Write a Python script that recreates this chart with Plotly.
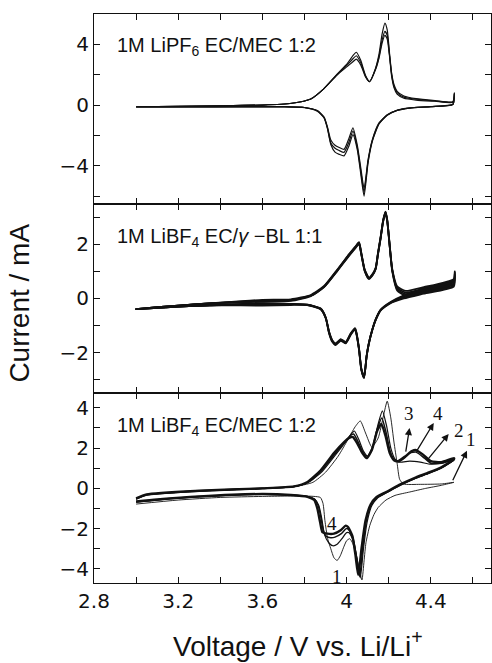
import plotly.graph_objects as go
from plotly.subplots import make_subplots

# ---------------- data ----------------
# Panel 1 : 1M LiPF6 EC/MEC 1:2  (three cycles A, B, C)
P1_V_ANO = [3.00, 3.20, 3.40, 3.60, 3.74, 3.83, 3.89, 3.956, 4.004, 4.03, 4.046, 4.067, 4.09, 4.109,
            4.138, 4.154, 4.169, 4.182, 4.193, 4.204, 4.214, 4.225, 4.24, 4.272, 4.33, 4.42, 4.505, 4.512]
P1_I_ANO_A = [-0.12, -0.08, -0.05, 0.00, 0.12, 0.40, 1.05, 2.05, 2.75, 3.25, 3.48, 2.95, 1.95, 1.55,
              2.45, 3.35, 4.70, 5.40, 4.95, 3.40, 2.10, 1.35, 0.90, 0.60, 0.42, 0.30, 0.22, 0.80]
P1_I_ANO_B = [-0.12, -0.08, -0.05, 0.00, 0.12, 0.40, 1.05, 2.02, 2.65, 3.05, 3.25, 2.80, 1.90, 1.55,
              2.40, 3.20, 4.30, 4.85, 4.60, 3.30, 2.00, 1.25, 0.82, 0.52, 0.38, 0.27, 0.20, 0.75]
P1_I_ANO_C = [-0.12, -0.08, -0.05, 0.00, 0.12, 0.40, 1.05, 2.00, 2.55, 2.85, 3.03, 2.65, 1.85, 1.53,
              2.35, 3.10, 4.10, 4.60, 4.35, 3.20, 1.90, 1.15, 0.72, 0.45, 0.33, 0.25, 0.18, 0.70]
P1_V_CAT = [4.505, 4.40, 4.30, 4.24, 4.193, 4.154, 4.122, 4.102, 4.083, 4.067, 4.051, 4.03, 4.011,
            3.988, 3.965, 3.945, 3.925, 3.909, 3.893, 3.861, 3.80, 3.70, 3.50, 3.25, 3.00]
P1_I_CAT_A = [0.05, -0.10, -0.20, -0.35, -0.68, -1.25, -2.40, -3.80, -6.00, -4.50, -2.95, -1.95, -2.70,
              -3.35, -3.25, -3.10, -2.60, -1.55, -0.85, -0.40, -0.17, -0.12, -0.12, -0.12, -0.13]
P1_I_CAT_B = [0.04, -0.10, -0.20, -0.35, -0.66, -1.22, -2.35, -3.70, -5.75, -4.30, -2.80, -1.72, -2.45,
              -3.12, -3.00, -2.85, -2.50, -1.50, -0.82, -0.38, -0.16, -0.11, -0.11, -0.12, -0.12]
P1_I_CAT_C = [0.03, -0.10, -0.19, -0.34, -0.64, -1.18, -2.30, -3.60, -5.50, -4.10, -2.65, -1.50, -2.20,
              -2.92, -2.80, -2.65, -2.30, -1.45, -0.80, -0.37, -0.16, -0.11, -0.11, -0.11, -0.12]

# Panel 2 : 1M LiBF4 EC/gamma-BL 1:1  (four nearly identical cycles)
P2_V_ANO = [3.00, 3.20, 3.35, 3.60, 3.735, 3.83, 3.893, 3.956, 4.004, 4.043, 4.059, 4.07, 4.086, 4.106,
            4.122, 4.138, 4.149, 4.162, 4.174, 4.185, 4.193, 4.201, 4.217, 4.24, 4.28, 4.367, 4.509, 4.514]
P2_I_ANO_A = [-0.39, -0.26, -0.18, -0.05, -0.03, 0.13, 0.46, 1.07, 1.56, 1.93, 2.08, 1.68, 1.07, 0.77,
              0.89, 1.13, 1.68, 2.29, 2.91, 3.21, 2.91, 2.29, 1.08, 0.45, 0.28, 0.42, 0.72, 1.00]
P2_I_ANO_B = [-0.39, -0.26, -0.18, -0.08, -0.05, 0.11, 0.44, 1.05, 1.54, 1.91, 2.06, 1.66, 1.05, 0.75,
              0.87, 1.11, 1.66, 2.27, 2.89, 3.19, 2.89, 2.27, 1.05, 0.40, 0.22, 0.36, 0.64, 0.95]
P2_I_ANO_C = [-0.39, -0.26, -0.18, -0.10, -0.07, 0.10, 0.43, 1.03, 1.52, 1.89, 2.03, 1.64, 1.03, 0.74,
              0.86, 1.10, 1.64, 2.25, 2.87, 3.17, 2.87, 2.25, 1.03, 0.35, 0.16, 0.30, 0.56, 0.90]
P2_I_ANO_D = [-0.39, -0.26, -0.18, -0.12, -0.09, 0.09, 0.42, 1.02, 1.50, 1.87, 2.01, 1.62, 1.01, 0.72,
              0.84, 1.08, 1.62, 2.23, 2.85, 3.15, 2.85, 2.23, 1.00, 0.30, 0.10, 0.24, 0.48, 0.85]
P2_V_CAT = [4.509, 4.367, 4.272, 4.209, 4.162, 4.138, 4.122, 4.106, 4.095, 4.083, 4.07, 4.059, 4.046,
            4.04, 4.019, 3.996, 3.972, 3.948, 3.932, 3.917, 3.901, 3.877, 3.814, 3.735, 3.60, 3.35, 3.20, 3.00]
P2_I_CAT_A = [0.68, 0.36, 0.12, -0.13, -0.41, -0.77, -1.14, -1.63, -2.12, -2.94, -2.64, -1.90, -1.29,
              -1.15, -1.35, -1.66, -1.56, -1.72, -1.60, -1.29, -0.74, -0.40, -0.24, -0.20, -0.17, -0.25, -0.30, -0.39]
P2_I_CAT_B = [0.60, 0.30, 0.08, -0.15, -0.42, -0.78, -1.15, -1.64, -2.13, -2.92, -2.62, -1.88, -1.27,
              -1.13, -1.33, -1.64, -1.54, -1.70, -1.58, -1.27, -0.72, -0.39, -0.23, -0.21, -0.20, -0.25, -0.30, -0.39]
P2_I_CAT_C = [0.52, 0.24, 0.04, -0.16, -0.43, -0.79, -1.16, -1.65, -2.14, -2.90, -2.60, -1.86, -1.25,
              -1.11, -1.31, -1.62, -1.52, -1.68, -1.56, -1.25, -0.71, -0.38, -0.23, -0.22, -0.23, -0.25, -0.30, -0.39]
P2_I_CAT_D = [0.44, 0.18, 0.00, -0.17, -0.44, -0.80, -1.17, -1.66, -2.15, -2.88, -2.58, -1.84, -1.23,
              -1.09, -1.29, -1.60, -1.50, -1.66, -1.54, -1.23, -0.70, -0.37, -0.24, -0.24, -0.26, -0.25, -0.30, -0.39]

# Panel 3 : 1M LiBF4 EC/MEC 1:2  (cycles 1..4)
P3_V_ANO_1 = [3.00, 3.05, 3.30, 3.60, 3.75, 3.84, 3.90, 3.96, 4.005, 4.04, 4.065, 4.09, 4.12, 4.15,
              4.175, 4.193, 4.21, 4.225, 4.24, 4.252, 4.27, 4.35, 4.45, 4.51]
P3_I_ANO_1 = [-0.55, -0.35, -0.15, -0.02, 0.08, 0.30, 0.80, 1.60, 2.40, 3.05, 3.35, 2.75, 2.05, 2.50,
              3.60, 4.33, 3.50, 2.30, 1.25, 0.45, 0.22, 0.20, 0.22, 0.30]
P3_V_CAT_1 = [4.51, 4.45, 4.376, 4.30, 4.23, 4.187, 4.15, 4.13, 4.11, 4.092, 4.083, 4.073, 4.062, 4.045,
              4.03, 4.015, 4.00, 3.985, 3.97, 3.955, 3.94, 3.925, 3.91, 3.897, 3.888, 3.875, 3.80, 3.60,
              3.40, 3.20, 3.00]
P3_I_CAT_1 = [0.30, 0.15, 0.00, -0.18, -0.35, -0.58, -0.95, -1.30, -1.85, -2.70, -3.60, -4.55, -4.10,
              -3.30, -2.75, -2.50, -2.60, -2.95, -3.35, -3.58, -3.45, -3.00, -2.50, -1.60, -0.75, -0.45,
              -0.38, -0.40, -0.45, -0.58, -0.78]
P3_V_ANO_2 = [3.00, 3.05, 3.30, 3.60, 3.75, 3.82, 3.885, 3.95, 3.998, 4.022, 4.037, 4.057, 4.08, 4.10,
              4.125, 4.15, 4.17, 4.19, 4.21, 4.23, 4.25, 4.30, 4.35, 4.40, 4.45, 4.51]
P3_I_ANO_2 = [-0.52, -0.32, -0.13, 0.00, 0.09, 0.30, 0.85, 1.70, 2.35, 2.70, 2.85, 2.45, 1.85, 1.60,
              2.10, 3.20, 3.85, 3.10, 2.00, 1.45, 1.30, 1.35, 1.30, 1.20, 1.25, 1.40]
P3_V_CAT_2 = [4.51, 4.45, 4.38, 4.33, 4.25, 4.19, 4.145, 4.12, 4.097, 4.08, 4.065, 4.05, 4.032, 4.012,
              4.00, 3.978, 3.955, 3.935, 3.915, 3.895, 3.882, 3.868, 3.85, 3.814, 3.735, 3.60, 3.30,
              3.10, 3.00]
P3_I_CAT_2 = [1.40, 1.00, 0.70, 0.50, 0.12, -0.22, -0.50, -0.85, -1.70, -3.00, -4.45, -3.50, -2.60,
              -2.20, -2.20, -2.50, -2.78, -2.85, -2.70, -2.30, -1.50, -0.85, -0.55, -0.40, -0.33, -0.30,
              -0.42, -0.58, -0.68]
P3_V_ANO_3 = [3.00, 3.05, 3.30, 3.60, 3.75, 3.817, 3.88, 3.945, 3.993, 4.018, 4.033, 4.053, 4.077,
              4.097, 4.122, 4.147, 4.167, 4.187, 4.207, 4.227, 4.247, 4.28, 4.30, 4.33, 4.37, 4.40,
              4.45, 4.51]
P3_I_ANO_3 = [-0.51, -0.31, -0.12, 0.00, 0.09, 0.31, 0.88, 1.72, 2.32, 2.62, 2.70, 2.35, 1.80, 1.55,
              2.00, 3.00, 3.50, 2.80, 1.85, 1.42, 1.32, 1.55, 1.75, 1.80, 1.50, 1.25, 1.25, 1.45]
P3_V_CAT_3 = [4.51, 4.45, 4.38, 4.33, 4.25, 4.19, 4.142, 4.117, 4.093, 4.077, 4.062, 4.047, 4.03, 4.01,
              3.998, 3.975, 3.945, 3.925, 3.905, 3.89, 3.878, 3.865, 3.848, 3.814, 3.735, 3.60, 3.30,
              3.10, 3.00]
P3_I_CAT_3 = [1.42, 1.02, 0.72, 0.52, 0.15, -0.20, -0.48, -0.82, -1.65, -2.95, -4.38, -3.40, -2.45,
              -2.05, -2.00, -2.25, -2.42, -2.45, -2.40, -2.10, -1.45, -0.85, -0.55, -0.41, -0.33, -0.29,
              -0.41, -0.57, -0.67]
P3_V_ANO_4 = [3.00, 3.05, 3.30, 3.60, 3.75, 3.814, 3.877, 3.94, 3.988, 4.015, 4.03, 4.05, 4.075, 4.095,
              4.12, 4.145, 4.165, 4.185, 4.205, 4.225, 4.245, 4.28, 4.31, 4.33, 4.36, 4.40, 4.45, 4.51]
P3_I_ANO_4 = [-0.50, -0.30, -0.12, 0.00, 0.10, 0.32, 0.90, 1.75, 2.30, 2.52, 2.55, 2.25, 1.75, 1.50,
              1.90, 2.85, 3.20, 2.60, 1.75, 1.40, 1.35, 1.60, 1.85, 1.90, 1.70, 1.35, 1.30, 1.50]
P3_V_CAT_4 = [4.51, 4.45, 4.38, 4.33, 4.25, 4.19, 4.14, 4.114, 4.09, 4.072, 4.055, 4.042, 4.027, 4.007,
              3.996, 3.972, 3.94, 3.909, 3.885, 3.874, 3.861, 3.846, 3.814, 3.735, 3.60, 3.30, 3.10, 3.00]
P3_I_CAT_4 = [1.45, 1.05, 0.75, 0.55, 0.17, -0.17, -0.45, -0.80, -1.60, -2.90, -4.30, -3.30, -2.35,
              -1.92, -1.85, -2.08, -2.25, -2.25, -2.17, -1.67, -1.00, -0.58, -0.42, -0.33, -0.28, -0.40,
              -0.55, -0.65]

# arrows and cycle labels (panel 3)
ARROW_TAIL_V = [4.280, 4.327, 4.383, 4.501]
ARROW_TAIL_I = [1.75, 1.75, 1.40, 0.33]
ARROW_HEAD_V = [4.299, 4.414, 4.485, 4.572]
ARROW_HEAD_I = [3.00, 3.25, 2.70, 1.87]
CYCLE_LABELS = ["3", "4", "2", "1", "4", "1"]
CYCLE_LABEL_V = [4.295, 4.432, 4.533, 4.593, 3.933, 3.956]
CYCLE_LABEL_I = [3.72, 3.72, 2.86, 2.42, -1.74, -4.39]

# axes ticks
X_TICKS = [2.8, 3.0, 3.2, 3.4, 3.6, 3.8, 4.0, 4.2, 4.4, 4.6]
X_TICKTEXT = ["2.8", " ", "3.2", " ", "3.6", " ", "4", " ", "4.4", " "]
Y1_TICKS = [-6, -4, -2, 0, 2, 4]
Y1_TICKTEXT = [" ", "\u22124", " ", "0", " ", "4"]
Y2_TICKS = [-3, -2, -1, 0, 1, 2, 3]
Y2_TICKTEXT = [" ", "\u22122", " ", "0", " ", "2", " "]
Y3_TICKS = [-4, -3, -2, -1, 0, 1, 2, 3, 4]
Y3_TICKTEXT = ["\u22124", " ", "\u22122", " ", "0", " ", "2", " ", "4"]

PANEL_TEXT = ["1M LiPF<sub>6</sub> EC/MEC 1:2",
              "1M LiBF<sub>4</sub> EC/<i>\u03b3</i> \u2212BL 1:1",
              "1M LiBF<sub>4</sub> EC/MEC 1:2"]
PANEL_TEXT_Y = [3.84, 2.25, 3.07]

# ---------------- figure ----------------
SANS = "Liberation Sans, Arial, Helvetica, sans-serif"
WIDE = "DejaVu Sans, Liberation Sans, Arial, sans-serif"
SERIF = "Liberation Serif, Times New Roman, serif"
INK = "#111111"

fig = make_subplots(rows=3, cols=1, shared_xaxes=True, vertical_spacing=0)


def add_cycle(va, ia, vc, ic, row, width):
    fig.add_trace(go.Scatter(x=va + vc, y=ia + ic, mode="lines",
                             line=dict(color=INK, width=width, shape="spline", smoothing=0.55),
                             showlegend=False, hoverinfo="skip"), row=row, col=1)


add_cycle(P1_V_ANO, P1_I_ANO_A, P1_V_CAT, P1_I_CAT_A, 1, 1.2)
add_cycle(P1_V_ANO, P1_I_ANO_B, P1_V_CAT, P1_I_CAT_B, 1, 1.2)
add_cycle(P1_V_ANO, P1_I_ANO_C, P1_V_CAT, P1_I_CAT_C, 1, 1.2)

add_cycle(P2_V_ANO, P2_I_ANO_A, P2_V_CAT, P2_I_CAT_A, 2, 1.8)
add_cycle(P2_V_ANO, P2_I_ANO_B, P2_V_CAT, P2_I_CAT_B, 2, 1.8)
add_cycle(P2_V_ANO, P2_I_ANO_C, P2_V_CAT, P2_I_CAT_C, 2, 1.8)
add_cycle(P2_V_ANO, P2_I_ANO_D, P2_V_CAT, P2_I_CAT_D, 2, 1.8)

add_cycle(P3_V_ANO_1, P3_I_ANO_1, P3_V_CAT_1, P3_I_CAT_1, 3, 0.9)
add_cycle(P3_V_ANO_2, P3_I_ANO_2, P3_V_CAT_2, P3_I_CAT_2, 3, 1.2)
add_cycle(P3_V_ANO_3, P3_I_ANO_3, P3_V_CAT_3, P3_I_CAT_3, 3, 1.5)
add_cycle(P3_V_ANO_4, P3_I_ANO_4, P3_V_CAT_4, P3_I_CAT_4, 3, 2.4)

axis_common = dict(showline=True, linecolor=INK, linewidth=1.2, mirror="allticks",
                   ticks="inside", ticklen=6, tickwidth=1.3, tickcolor=INK,
                   showgrid=False, zeroline=False,
                   tickfont=dict(family=WIDE, size=20, color=INK))

for i in (1, 2, 3):
    fig.update_xaxes(range=[2.8, 4.686], tickmode="array", tickvals=X_TICKS, ticktext=X_TICKTEXT,
                     showticklabels=(i == 3), row=i, col=1, **axis_common)

fig.update_yaxes(range=[-6.5, 6.0], tickmode="array", tickvals=Y1_TICKS, ticktext=Y1_TICKTEXT,
                 row=1, col=1, **axis_common)
fig.update_yaxes(range=[-3.5, 3.5], tickmode="array", tickvals=Y2_TICKS, ticktext=Y2_TICKTEXT,
                 row=2, col=1, **axis_common)
fig.update_yaxes(range=[-4.7, 4.72], tickmode="array", tickvals=Y3_TICKS, ticktext=Y3_TICKTEXT,
                 row=3, col=1, **axis_common)

annotations = []
for k, (txt, yy) in enumerate(zip(PANEL_TEXT, PANEL_TEXT_Y)):
    suffix = "" if k == 0 else str(k + 1)
    annotations.append(dict(text=txt, x=2.9, y=yy, xref="x" + suffix, yref="y" + suffix,
                            xanchor="left", yanchor="middle", showarrow=False,
                            font=dict(family=SANS, size=20, color=INK)))

for tv, ti, hv, hi in zip(ARROW_TAIL_V, ARROW_TAIL_I, ARROW_HEAD_V, ARROW_HEAD_I):
    annotations.append(dict(text="", x=hv, y=hi, ax=tv, ay=ti, xref="x3", yref="y3",
                            axref="x3", ayref="y3", showarrow=True, arrowhead=2,
                            arrowsize=1.1, arrowwidth=1.3, arrowcolor=INK))

for lab, lv, li in zip(CYCLE_LABELS, CYCLE_LABEL_V, CYCLE_LABEL_I):
    annotations.append(dict(text=lab, x=lv, y=li, xref="x3", yref="y3", showarrow=False,
                            xanchor="center", yanchor="middle",
                            font=dict(family=SERIF, size=19, color=INK)))

annotations.append(dict(text="Current / mA", x=-0.19, y=0.492, xref="paper", yref="paper",
                        textangle=-90, showarrow=False, xanchor="center", yanchor="middle",
                        font=dict(family=SANS, size=28, color=INK)))
annotations.append(dict(text="Voltage / V vs. Li/Li<sup>+</sup>", x=0.514, y=-0.108,
                        xref="paper", yref="paper", showarrow=False, xanchor="center",
                        yanchor="middle", font=dict(family=SANS, size=28, color=INK)))

fig.update_layout(width=492, height=663, margin=dict(l=94, r=1, t=14, b=80),
                  paper_bgcolor="white", plot_bgcolor="white", annotations=annotations,
                  showlegend=False)

fig.write_html("out.html")
